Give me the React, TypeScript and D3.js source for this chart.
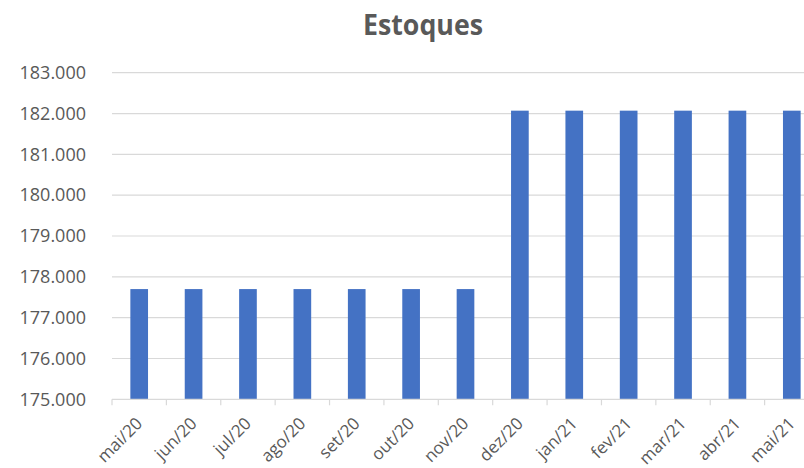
import { useRef, useEffect } from 'react';
import * as d3 from 'd3';

const months = ['mai/20', 'jun/20', 'jul/20', 'ago/20', 'set/20', 'out/20', 'nov/20',
  'dez/20', 'jan/21', 'fev/21', 'mar/21', 'abr/21', 'mai/21'];
const estoques = [177700, 177700, 177700, 177700, 177700, 177700, 177700,
  182070, 182070, 182070, 182070, 182070, 182070];
const yTicks = [175000, 176000, 177000, 178000, 179000, 180000, 181000, 182000, 183000];

const width = 804;
const height = 468;

function App() {
  const ref = useRef<SVGSVGElement>(null);

  useEffect(() => {
    const svg = d3.select(ref.current);
    svg.selectAll('*').remove();

    const font = "'Open Sans', sans-serif";
    const left = 112, right = 819, top = 72.7, bottom = 399.3;

    const x = d3.scaleBand<string>()
      .domain(months)
      .range([left, right])
      .paddingInner(0.675)
      .paddingOuter(0.3375);

    const y = d3.scaleLinear()
      .domain([175000, 183000])
      .range([bottom, top]);

    const fmt = (v: number) => d3.format(',')(v).replace(/,/g, '.');

    // gridlines
    svg.append('g')
      .selectAll('line')
      .data(yTicks.slice(1))
      .join('line')
      .attr('x1', left)
      .attr('x2', right)
      .attr('y1', d => y(d))
      .attr('y2', d => y(d))
      .attr('stroke', '#d9d9d9')
      .attr('stroke-width', 1.2);

    // y labels
    svg.append('g')
      .selectAll('text')
      .data(yTicks)
      .join('text')
      .attr('x', 86)
      .attr('y', d => y(d))
      .attr('dy', '0.35em')
      .attr('text-anchor', 'end')
      .attr('font-family', font)
      .attr('font-size', 18)
      .attr('fill', '#595959')
      .text(d => fmt(d));

    // bars
    svg.append('g')
      .attr('fill', '#4472c4')
      .selectAll('rect')
      .data(months)
      .join('rect')
      .attr('x', d => x(d)!)
      .attr('width', x.bandwidth())
      .attr('y', (d, i) => y(estoques[i]))
      .attr('height', (d, i) => y(175000) - y(estoques[i]));

    // x axis line and ticks
    svg.append('line')
      .attr('x1', left)
      .attr('x2', right)
      .attr('y1', bottom)
      .attr('y2', bottom)
      .attr('stroke', '#d9d9d9')
      .attr('stroke-width', 1.2);

    const step = x.step();
    svg.append('g')
      .selectAll('line')
      .data(d3.range(months.length + 1))
      .join('line')
      .attr('x1', i => left + i * step)
      .attr('x2', i => left + i * step)
      .attr('y1', bottom)
      .attr('y2', bottom + 6)
      .attr('stroke', '#d9d9d9')
      .attr('stroke-width', 1.2);

    // x labels
    svg.append('g')
      .selectAll('text')
      .data(months)
      .join('text')
      .attr('transform', d => `translate(${x(d)! + x.bandwidth() / 2},${bottom + 21}) rotate(-45)`)
      .attr('text-anchor', 'end')
      .attr('dy', '0.35em')
      .attr('font-family', font)
      .attr('font-size', 17)
      .attr('fill', '#595959')
      .text(d => d);

    // title
    svg.append('text')
      .attr('x', 423)
      .attr('y', 35)
      .attr('text-anchor', 'middle')
      .attr('font-family', font)
      .attr('font-weight', 'bold')
      .attr('font-size', 28)
      .attr('textLength', 120)
      .attr('lengthAdjust', 'spacingAndGlyphs')
      .attr('fill', '#595959')
      .text('Estoques');
  }, []);

  return (
    <div style={{ position: 'absolute', left: 0, top: 0 }}>
      <svg ref={ref} width={width} height={height} style={{ display: 'block', background: '#fff' }}></svg>
    </div>
  );
}

export default App;
